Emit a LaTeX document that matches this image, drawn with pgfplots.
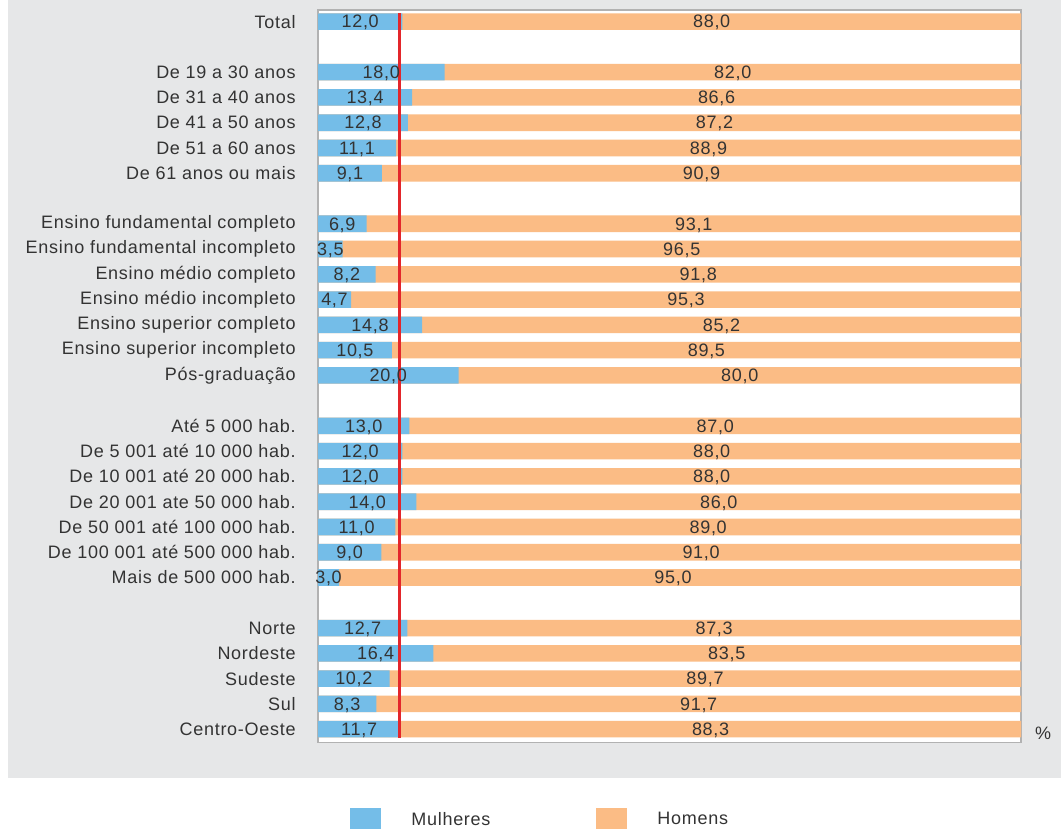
\documentclass[border=0pt]{standalone}
\usepackage{fontspec}
\setmainfont{Liberation Sans}[LetterSpace=4]
\usepackage{pgfplots}
\pgfplotsset{compat=1.18}
\usepackage{pgfplotstable}
\definecolor{mulh}{HTML}{74BDE8}
\definecolor{hom}{HTML}{FBBC85}
\definecolor{painel}{HTML}{E6E7E8}
\definecolor{texto}{HTML}{333333}
\definecolor{vermelho}{RGB}{227,38,43}

% y = linha do grafico, m = mulheres, h = homens, tot = fim da barra
\pgfplotstableread{
y m h tot mlab hlab
0 12.0 88.0 100 12,0 88,0
2 18.0 82.0 100 18,0 82,0
3 13.4 86.6 100 13,4 86,6
4 12.8 87.2 100 12,8 87,2
5 11.1 88.9 100 11,1 88,9
6 9.1 90.9 100 9,1 90,9
8 6.9 93.1 100 6,9 93,1
9 3.5 96.5 100 3,5 96,5
10 8.2 91.8 100 8,2 91,8
11 4.7 95.3 100 4,7 95,3
12 14.8 85.2 100 14,8 85,2
13 10.5 89.5 100 10,5 89,5
14 20.0 80.0 100 20,0 80,0
16 13.0 87.0 100 13,0 87,0
17 12.0 88.0 100 12,0 88,0
18 12.0 88.0 100 12,0 88,0
19 14.0 86.0 100 14,0 86,0
20 11.0 89.0 100 11,0 89,0
21 9.0 91.0 100 9,0 91,0
22 3.0 95.0 100 3,0 95,0
24 12.7 87.3 100 12,7 87,3
25 16.4 83.5 100 16,4 83,5
26 10.2 89.7 100 10,2 89,7
27 8.3 91.7 100 8,3 91,7
28 11.7 88.3 100 11,7 88,3
}\dados

\begin{document}
\begin{tikzpicture}
\path[use as bounding box] (0,0) rectangle (530.5pt,-414.5pt);
\fill[painel] (4pt,0) rectangle (530.5pt,-389pt);
\begin{axis}[
 at={(159pt,-5pt)}, anchor=north west,
 width=351.5pt, height=366.25pt, scale only axis,
 xmin=0, xmax=100, ymin=-0.46, ymax=28.53, y dir=reverse,
 axis background/.style={fill=white},
 axis line style={draw=gray!60, line width=0.7pt},
 xtick=\empty,
 ytick={0,2,3,4,5,6,8,9,10,11,12,13,14,16,17,18,19,20,21,22,24,25,26,27,28},
 yticklabels={Total,
  De 19 a 30 anos, De 31 a 40 anos, De 41 a 50 anos, De 51 a 60 anos, De 61 anos ou mais,
  Ensino fundamental completo, Ensino fundamental incompleto, Ensino médio completo,
  Ensino médio incompleto, Ensino superior completo, Ensino superior incompleto, Pós-graduação,
  Até 5 000 hab., De 5 001 até 10 000 hab., De 10 001 até 20 000 hab., De 20 001 ate 50 000 hab.,
  De 50 001 até 100 000 hab., De 100 001 até 500 000 hab., Mais de 500 000 hab.,
  Norte, Nordeste, Sudeste, Sul, Centro-Oeste},
 major tick length=0pt,
 yticklabel style={font=\fontsize{9}{10}\selectfont, text=texto, inner sep=0pt, xshift=-11pt},
 reverse legend,
 legend columns=2,
 legend style={at={(0.0455,-0.106)}, anchor=west, draw=none, fill=none, inner sep=0pt,
   font=\fontsize{9}{10}\selectfont,
   nodes={inner sep=0pt, text=texto},
   /tikz/every odd column/.append style={column sep=15pt},
   /tikz/every even column/.append style={column sep=53pt}},
]
\addplot[xbar, bar shift=0pt, bar width=8.3pt, fill=hom, draw=none,
  legend image code/.code={\fill[hom] (0pt,-6.25pt) rectangle (15.5pt,6.25pt);}]
  table[x=tot, y=y] {\dados};
\addlegendentry{Homens}
\addplot[xbar, bar shift=0pt, bar width=8.3pt, fill=mulh, draw=none,
  legend image code/.code={\fill[mulh] (0pt,-6.25pt) rectangle (15.5pt,6.25pt);}]
  table[x=m, y=y] {\dados};
\addlegendentry{Mulheres}
\addplot[vermelho, line width=1.1pt, forget plot] coordinates {(11.6,-0.34) (11.6,28.34)};
\addplot[only marks, mark=none, forget plot, nodes near coords, point meta=explicit symbolic,
  every node near coord/.style={anchor=center, inner sep=0pt, text depth=0pt, text=texto,
    font=\fontsize{9}{10}\selectfont}]
  table[x expr=\thisrow{m}/2, y=y, meta=mlab] {\dados};
\addplot[only marks, mark=none, forget plot, nodes near coords, point meta=explicit symbolic,
  every node near coord/.style={anchor=center, inner sep=0pt, text depth=0pt, text=texto,
    font=\fontsize{9}{10}\selectfont}]
  table[x expr=\thisrow{m}+\thisrow{h}/2, y=y, meta=hlab] {\dados};
\end{axis}
\node[font=\fontsize{9}{10}\selectfont, text=texto] at (521.5pt,-366.5pt) {\%};
\end{tikzpicture}
\end{document}
